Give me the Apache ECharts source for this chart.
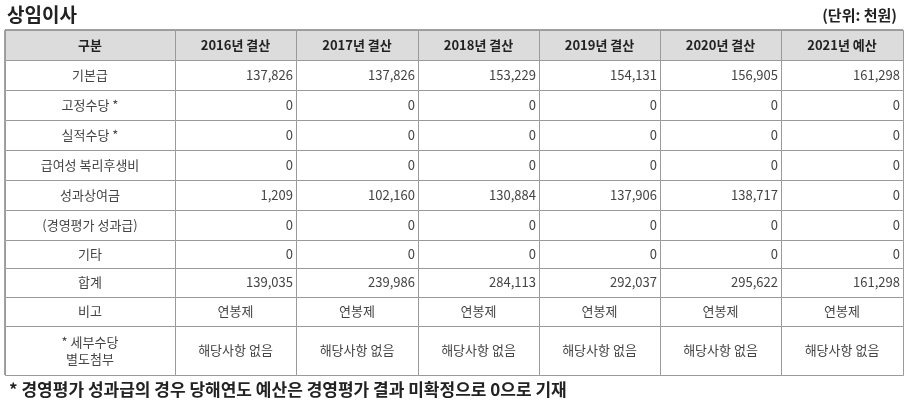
<!DOCTYPE html>
<html><head><meta charset="utf-8">
<script src="https://cdn.jsdelivr.net/npm/echarts@6/dist/echarts.min.js"></script>
<style>html,body{margin:0;padding:0;background:#fff}#c{width:907px;height:401px}</style>
</head><body><div id="c"></div>
<script>
const title = '상임이사';
const unit = '(단위: 천원)';
const footnote = '* 경영평가 성과급의 경우 당해연도 예산은 경영평가 결과 미확정으로 0으로 기재';
const headers = ['구분','2016년 결산','2017년 결산','2018년 결산','2019년 결산','2020년 결산','2021년 예산'];
const rowLabels = ['기본급','고정수당 *','실적수당 *','급여성 복리후생비','성과상여금','(경영평가 성과급)','기타','합계','비고','* 세부수당\n별도첨부'];
const v2016 = [137826,0,0,0,1209,0,0,139035];
const v2017 = [137826,0,0,0,102160,0,0,239986];
const v2018 = [153229,0,0,0,130884,0,0,284113];
const v2019 = [154131,0,0,0,137906,0,0,292037];
const v2020 = [156905,0,0,0,138717,0,0,295622];
const v2021 = [161298,0,0,0,0,0,0,161298];
const remarkRow = ['연봉제','연봉제','연봉제','연봉제','연봉제','연봉제'];
const detailRow = ['해당사항 없음','해당사항 없음','해당사항 없음','해당사항 없음','해당사항 없음','해당사항 없음'];

const colW = [170,121,122,121,121,121,122];
const rowH = [30,30,30,30,30,30,30,28,29,29,49];
const colX = [0]; colW.forEach(w=>colX.push(colX[colX.length-1]+w));
const rowY = [0]; rowH.forEach(h=>rowY.push(rowY[rowY.length-1]+h));

const years = [v2016,v2017,v2018,v2019,v2020,v2021];
const cells = [];
headers.forEach((h,c)=>cells.push([c,0,h,'h']));
rowLabels.forEach((l,r)=>cells.push([0,r+1,l,'l']));
years.forEach((arr,c)=>arr.forEach((v,r)=>cells.push([c+1,r+1,v.toLocaleString('en-US'),'n'])));
remarkRow.forEach((t,c)=>cells.push([c+1,9,t,'t']));
detailRow.forEach((t,c)=>cells.push([c+1,10,t,'t']));

const FONT = '"Noto Sans CJK KR", "Noto Sans", sans-serif';
const chart = echarts.init(document.getElementById('c'));
chart.setOption({
  animation:false,
  title:[{text:title,left:2,top:0,textStyle:{fontSize:19,fontWeight:'bold',color:'#222',fontFamily:FONT}},
         {text:unit,right:5,top:3,textStyle:{fontSize:15,fontWeight:'bold',color:'#222',fontFamily:FONT}},
         {text:footnote,left:4,top:376,textStyle:{fontSize:17,fontWeight:'bold',color:'#222',fontFamily:FONT}}],
  grid:{left:5,top:30,width:898,height:345},
  xAxis:{type:'value',min:0,max:898,show:false},
  yAxis:{type:'value',min:0,max:345,inverse:true,show:false},
  series:[{
    type:'custom',
    data:cells,
    renderItem:function(params,api){
      const c=api.value(0), r=api.value(1);
      const d=cells[params.dataIndex];
      const p0=api.coord([colX[c],rowY[r]]), p1=api.coord([colX[c+1],rowY[r+1]]);
      const kind=d[3];
      const w=p1[0]-p0[0], h=p1[1]-p0[1];
      let tx, align;
      if(kind==='n'){tx=p1[0]-3;align='right';} else {tx=p0[0]+w/2;align='center';}
      return {type:'group',children:[
        {type:'rect',shape:{x:p0[0]+0.5,y:p0[1]+0.5,width:w,height:h},
         style:{fill:kind==='h'?'#dcdcdc':'#fff',stroke:'#9a9a9a',lineWidth:1}},
        {type:'text',style:{text:d[2],x:tx,y:p0[1]+h/2,align:align,verticalAlign:'middle',
          font:(kind==='h'?'bold ':'')+'13px '+FONT,fill:kind==='h'?'#222':'#444',lineHeight:17}}
      ]};
    }
  }],
  graphic:[{type:'rect',shape:{x:5,y:30,width:898,height:345},style:{fill:'none',stroke:'#444',lineWidth:1}}]
});
</script></body></html>
